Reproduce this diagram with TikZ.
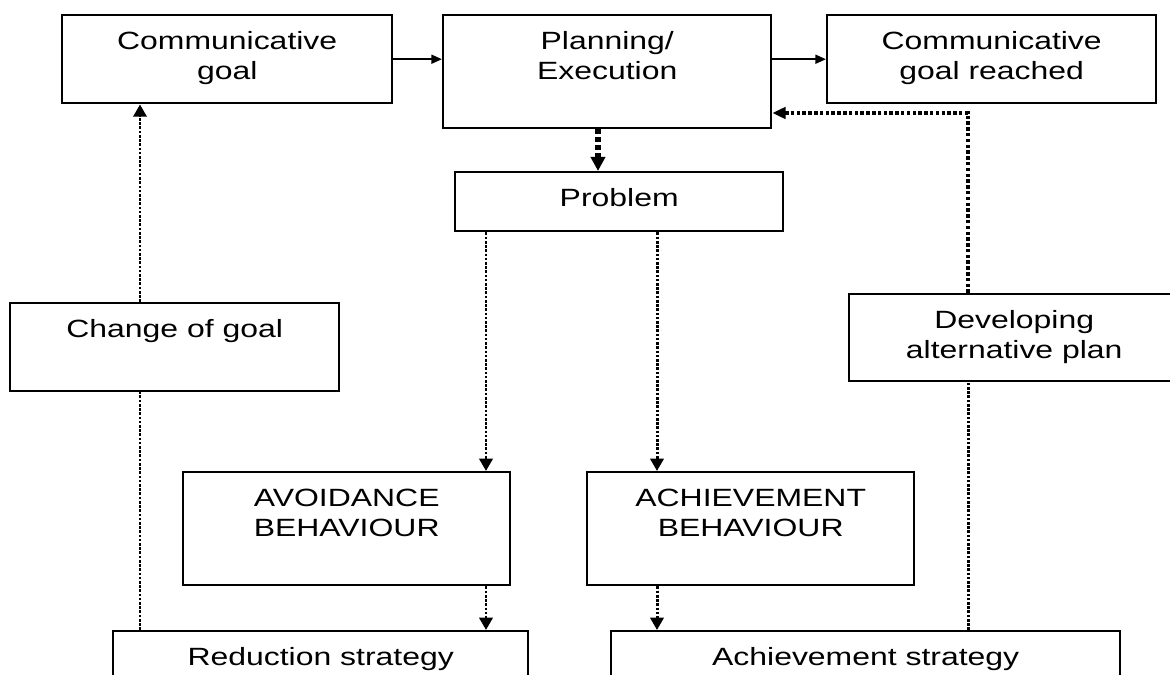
\documentclass[tikz,border=0pt]{standalone}
\usepackage{fontspec}
\setmainfont[FakeStretch=1.28]{Liberation Sans}
\usetikzlibrary{arrows.meta}
\newcommand\bt[3]{\parbox[t][#2][t]{#1}{\centering\rule{0pt}{0.68cm}#3\par}}
\begin{document}
\begin{tikzpicture}[x=0.02cm,y=-0.02cm,
  box/.style={draw, line width=1.4pt, inner sep=0pt, anchor=north west,
    font=\fontsize{14.2pt}{17.4pt}\selectfont},
  solidarr/.style={line width=1.2pt, -{Triangle[length=6pt,width=5pt]}},
  dotline/.style={line width=1.7pt, dash pattern=on 1.5pt off 0.9pt},
  dotarr/.style={dotline, -{Triangle[length=7pt,width=7.5pt]}},
  thickdot/.style={line width=3.6pt, dash pattern=on 2.8pt off 1.7pt,
    -{Triangle[length=8pt,width=8pt]}},
  medarr/.style={line width=2.1pt, dash pattern=on 2pt off 1.3pt,
    -{Triangle[length=7.5pt,width=6.5pt]}}]
\useasboundingbox (0,0) rectangle (1170,675);
\clip (0,0) rectangle (1170,675);

% boxes
\node[box] (CG)  at (61,14)   {\bt{6.6cm}{1.76cm}{Communicative\\goal}};
\node[box] (PE)  at (442,14)  {\bt{6.56cm}{2.26cm}{Planning/\\Execution}};
\node[box] (CGR) at (826,14)  {\bt{6.58cm}{1.76cm}{Communicative\\goal reached}};
\node[box] (PR)  at (454,171) {\bt{6.56cm}{1.18cm}{Problem}};
\node[box] (CH)  at (9,302)   {\bt{6.58cm}{1.76cm}{Change of goal}};
\node[box] (DEV) at (848,293) {\bt{6.6cm}{1.74cm}{Developing\\alternative plan}};
\node[box] (AV)  at (182,471) {\bt{6.54cm}{2.26cm}{AVOIDANCE\\BEHAVIOUR}};
\node[box] (AC)  at (586,471) {\bt{6.54cm}{2.26cm}{ACHIEVEMENT\\BEHAVIOUR}};
\node[box] (RS)  at (112,630) {\bt{8.3cm}{2.2cm}{Reduction strategy}};
\node[box] (AS)  at (610,630) {\bt{10.18cm}{2.2cm}{Achievement strategy}};

% helper coordinates for connector columns
\coordinate (xpe) at (598,0);
\coordinate (xav) at (486,0);
\coordinate (xac) at (657,0);
\coordinate (xch) at (140,0);
\coordinate (xdv) at (968,0);
\coordinate (bend) at (968,113);

% solid arrows
\draw[solidarr] (CG.east) -- (CG.east -| PE.west);
\draw[solidarr] (CGR.west -| PE.east) -- (CGR.west);

% dotted connectors
\draw[thickdot] (PE.south -| xpe) -- (PR.north -| xpe);
\draw[dotarr] (PR.south -| xav) -- (AV.north -| xav);
\draw[dotarr] (PR.south -| xac) -- (AC.north -| xac);
\draw[dotarr] (AV.south -| xav) -- (RS.north -| xav);
\draw[dotarr] (AC.south -| xac) -- (AS.north -| xac);
\draw[dotline] (RS.north -| xch) -- (CH.south -| xch);
\draw[dotarr] (CH.north -| xch) -- (CG.south -| xch);
\draw[dotline] (AS.north -| xdv) -- (DEV.south -| xdv);
\draw[medarr] (DEV.north -| xdv) -- (bend) -- (bend -| PE.east);
\end{tikzpicture}
\end{document}
